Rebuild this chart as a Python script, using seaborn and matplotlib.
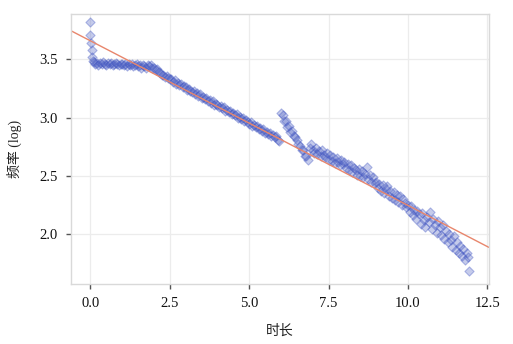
import numpy as np
import pandas as pd
import seaborn as sns
import matplotlib
matplotlib.use("Agg")
import matplotlib.pyplot as plt

# duracion (eje x) y frecuencia en log (eje y)
t_inicio = [0.00, 0.00, 0.02, 0.04, 0.06, 0.08]
f_inicio = [3.82, 3.71, 3.64, 3.58, 3.52, 3.49]

t_0 = [0.10, 0.15, 0.20, 0.25, 0.30, 0.35, 0.40, 0.45, 0.50, 0.55,
       0.60, 0.65, 0.70, 0.75, 0.80, 0.85, 0.90, 0.95]
f_0 = [3.48, 3.46, 3.47, 3.45, 3.47, 3.46, 3.48, 3.46, 3.45, 3.47,
       3.46, 3.47, 3.45, 3.46, 3.47, 3.46, 3.45, 3.46]

t_1 = [1.00, 1.05, 1.10, 1.15, 1.20, 1.25, 1.30, 1.35, 1.40, 1.45,
       1.50, 1.55, 1.60, 1.65, 1.70, 1.75, 1.80, 1.85, 1.90, 1.95]
f_1 = [3.46, 3.45, 3.46, 3.44, 3.46, 3.45, 3.46, 3.44, 3.45, 3.46,
       3.44, 3.45, 3.43, 3.45, 3.44, 3.43, 3.45, 3.44, 3.45, 3.43]

t_2 = [2.00, 2.05, 2.10, 2.15, 2.20, 2.25, 2.30, 2.35, 2.40, 2.45,
       2.50, 2.55, 2.60, 2.65, 2.70, 2.75, 2.80, 2.85, 2.90, 2.95]
f_2 = [3.43, 3.41, 3.42, 3.39, 3.38, 3.37, 3.37, 3.35, 3.36, 3.34,
       3.33, 3.33, 3.31, 3.32, 3.29, 3.30, 3.28, 3.29, 3.26, 3.27]

t_3 = [3.00, 3.05, 3.10, 3.15, 3.20, 3.25, 3.30, 3.35, 3.40, 3.45,
       3.50, 3.55, 3.60, 3.65, 3.70, 3.75, 3.80, 3.85, 3.90, 3.95]
f_3 = [3.26, 3.24, 3.25, 3.23, 3.22, 3.23, 3.20, 3.21, 3.19, 3.20,
       3.17, 3.18, 3.16, 3.17, 3.14, 3.15, 3.13, 3.14, 3.11, 3.12]

t_4 = [4.00, 4.05, 4.10, 4.15, 4.20, 4.25, 4.30, 4.35, 4.40, 4.45,
       4.50, 4.55, 4.60, 4.65, 4.70, 4.75, 4.80, 4.85, 4.90, 4.95]
f_4 = [3.11, 3.09, 3.10, 3.08, 3.09, 3.06, 3.07, 3.05, 3.06, 3.03,
       3.04, 3.02, 3.03, 3.00, 3.01, 2.99, 3.00, 2.97, 2.98, 2.96]

t_5 = [5.00, 5.05, 5.10, 5.15, 5.20, 5.25, 5.30, 5.35, 5.40, 5.45,
       5.50, 5.55, 5.60, 5.65, 5.70, 5.75, 5.80, 5.85, 5.90, 5.95]
f_5 = [2.95, 2.96, 2.93, 2.94, 2.92, 2.93, 2.90, 2.91, 2.89, 2.90,
       2.87, 2.88, 2.86, 2.87, 2.84, 2.85, 2.83, 2.84, 2.81, 2.80]

t_6 = [6.00, 6.05, 6.10, 6.15, 6.20, 6.25, 6.30, 6.35, 6.40, 6.45,
       6.50, 6.55, 6.60, 6.65, 6.70, 6.75, 6.80, 6.85, 6.90, 6.95]
f_6 = [3.04, 3.02, 2.97, 2.97, 2.92, 2.93, 2.88, 2.89, 2.84, 2.83,
       2.81, 2.77, 2.76, 2.72, 2.72, 2.67, 2.67, 2.64, 2.74, 2.77]

t_7 = [7.00, 7.05, 7.10, 7.15, 7.20, 7.25, 7.30, 7.35, 7.40, 7.45,
       7.50, 7.55, 7.60, 7.65, 7.70, 7.75, 7.80, 7.85, 7.90, 7.95]
f_7 = [2.72, 2.70, 2.74, 2.69, 2.71, 2.67, 2.72, 2.68, 2.66, 2.70,
       2.64, 2.68, 2.63, 2.66, 2.61, 2.65, 2.62, 2.59, 2.64, 2.60]

t_8 = [8.00, 8.05, 8.10, 8.15, 8.20, 8.25, 8.30, 8.35, 8.40, 8.45,
       8.50, 8.55, 8.60, 8.65, 8.70, 8.75, 8.80, 8.85, 8.90, 8.95]
f_8 = [2.62, 2.57, 2.60, 2.55, 2.59, 2.53, 2.57, 2.55, 2.51, 2.56,
       2.50, 2.54, 2.49, 2.52, 2.58, 2.47, 2.51, 2.45, 2.49, 2.44]

t_9 = [9.00, 9.05, 9.10, 9.15, 9.20, 9.25, 9.30, 9.35, 9.40, 9.45,
       9.50, 9.55, 9.60, 9.65, 9.70, 9.75, 9.80, 9.85, 9.90, 9.95]
f_9 = [2.45, 2.40, 2.43, 2.37, 2.42, 2.35, 2.39, 2.41, 2.33, 2.37,
       2.31, 2.36, 2.29, 2.34, 2.28, 2.33, 2.25, 2.30, 2.27, 2.23]

t_10 = [10.00, 10.05, 10.10, 10.15, 10.20, 10.25, 10.30, 10.35, 10.40, 10.45,
        10.50, 10.55, 10.60, 10.65, 10.70, 10.75, 10.80, 10.85, 10.90, 10.95]
f_10 = [2.25, 2.19, 2.24, 2.16, 2.21, 2.13, 2.20, 2.17, 2.09, 2.18,
        2.12, 2.06, 2.15, 2.10, 2.19, 2.04, 2.13, 2.08, 2.01, 2.11]

t_11 = [11.00, 11.05, 11.10, 11.15, 11.20, 11.25, 11.30, 11.35, 11.40, 11.45,
        11.50, 11.55, 11.60, 11.65, 11.70, 11.75, 11.80, 11.85, 11.90, 11.93]
f_11 = [2.06, 1.99, 2.08, 1.96, 2.03, 1.93, 2.00, 1.95, 1.89, 1.98,
        1.86, 1.93, 1.84, 1.90, 1.81, 1.87, 1.78, 1.84, 1.80, 1.68]

tiempo = (t_inicio + t_0 + t_1 + t_2 + t_3 + t_4 + t_5 + t_6
          + t_7 + t_8 + t_9 + t_10 + t_11)
frecuencia = (f_inicio + f_0 + f_1 + f_2 + f_3 + f_4 + f_5 + f_6
              + f_7 + f_8 + f_9 + f_10 + f_11)
df = pd.DataFrame({"tiempo": tiempo, "frecuencia": frecuencia})

sns.set_theme(style="whitegrid")
plt.rcParams['font.family'] = ['Liberation Serif', 'Noto Sans CJK SC']

fig, ax = plt.subplots(figsize=(5.13, 3.44), dpi=100)
fig.subplots_adjust(left=0.138, right=0.953, top=0.959, bottom=0.174)

ax.set_xlim(-0.62, 12.55)
ax.set_ylim(1.57, 3.89)

sns.scatterplot(data=df, x="tiempo", y="frecuencia", marker="D", s=22,
                color="#5a6cc8", alpha=0.35, edgecolor="#3a4fc0",
                linewidth=0.8, ax=ax)
sns.regplot(data=df, x="tiempo", y="frecuencia", scatter=False, ci=None,
            truncate=False, color="#e8866c", line_kws={"linewidth": 1.0},
            ax=ax)

ax.set_xticks([0.0, 2.5, 5.0, 7.5, 10.0, 12.5])
ax.set_xticklabels(["0.0", "2.5", "5.0", "7.5", "10.0", "12.5"])
ax.set_yticks([2.0, 2.5, 3.0, 3.5])
ax.set_yticklabels(["2.0", "2.5", "3.0", "3.5"])
ax.tick_params(axis="both", which="both", length=3.5, width=1.0,
               color="#555555", labelsize=10.5, labelcolor="#111111",
               bottom=True, left=True, pad=6)
ax.grid(True, color="#ececec", linewidth=0.9)
for sp in ax.spines.values():
    sp.set_color("#d9d9d9")
    sp.set_linewidth(1.0)

ax.set_xlabel("时长", fontsize=10, color="#222222", labelpad=10)
ax.set_ylabel("频率 (log)", fontsize=10, color="#222222", labelpad=12)

plt.savefig("out.png", dpi=100)
